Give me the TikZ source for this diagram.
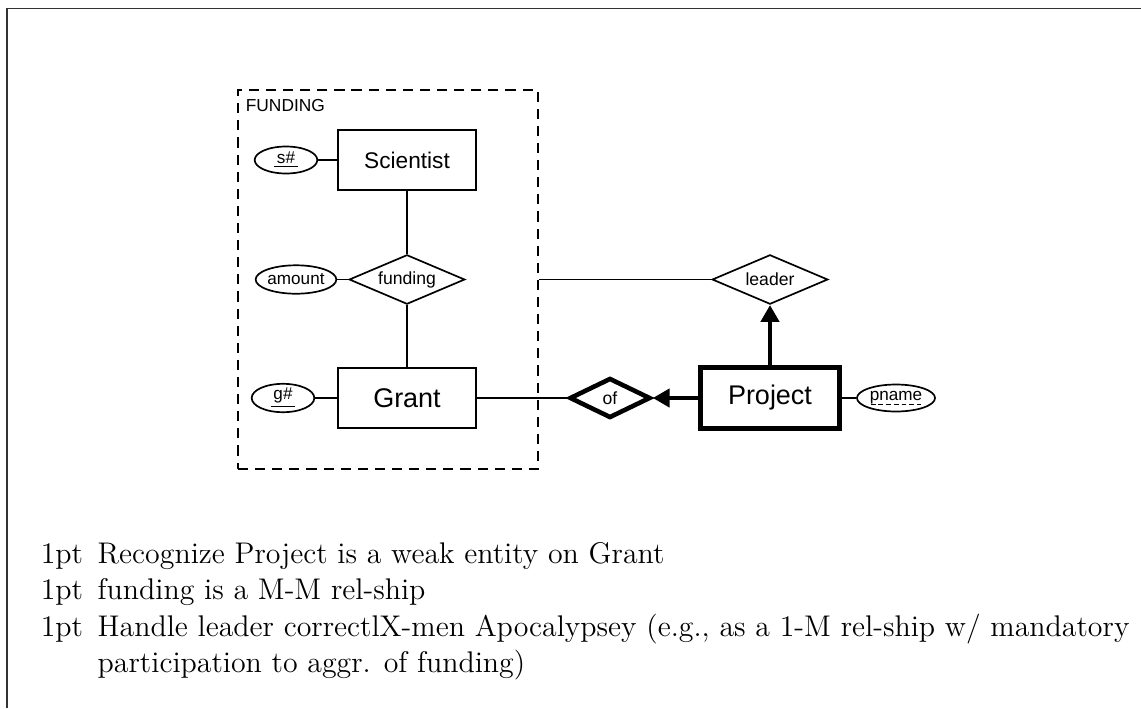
\documentclass[tikz,border=0pt]{standalone}
\usepackage{fontspec}
\usetikzlibrary{shapes.geometric,arrows.meta}
\newfontfamily\erfont{Liberation Sans}

\begin{document}
\begin{tikzpicture}[
		x=0.415pt, y=-0.415pt,
		line width=0.7pt,
		entity/.style={draw, rectangle, minimum width=57.5pt, minimum height=25pt, inner sep=0pt, font=\erfont\fontsize{9.4}{11}\selectfont},
		bigentity/.style={entity, font=\erfont\fontsize{11.2}{13}\selectfont},
		relship/.style={draw, diamond, aspect=2.3, minimum width=48pt, minimum height=20.5pt, inner sep=0pt, font=\erfont\fontsize{7.3}{9}\selectfont},
		attrib/.style={draw, ellipse, minimum width=26pt, minimum height=11.2pt, inner sep=0pt, font=\erfont\fontsize{7.1}{8.5}\selectfont},
		boldarrow/.style={line width=1.7pt, -{Triangle[length=7pt,width=7.5pt]}}
	]
	\useasboundingbox (0,0) rectangle (1141,708);
	\draw[black!80, line width=0.6pt] (7,708) -- (7,8.5) -- (1141,8.5);

	\node[draw, dash pattern=on 4.2pt off 2.9pt, line width=0.8pt, minimum width=124.5pt, minimum height=157.3pt, inner sep=0pt] (aggr) at (388,279.5) {};
	\node[anchor=base west, inner sep=0pt, font=\erfont\fontsize{7.2}{8.5}\selectfont] (aggrlabel) at (245,111) {FUNDING};

	\node[entity] (scientist) at (407,160) {Scientist};
	\node[attrib] (sno) at (286,160) {\underline{\,s\#\,}};
	\node[relship] (funding) at (407,279.5) {funding};
	\node[attrib, minimum width=32.8pt, minimum height=11.8pt] (amount) at (296,279.5) {amount};
	\node[bigentity] (grant) at (407,398) {Grant};
	\node[attrib] (gno) at (283,398) {\underline{\,g\#\,}};
	\node[relship] (leader) at (770,279.5) {leader};
	\node[relship, line width=1.9pt, minimum width=33.6pt, minimum height=16.6pt] (of) at (610,398) {of};
	\node[bigentity, line width=2.1pt] (project) at (770,398) {Project};
	\node[attrib, minimum width=32.4pt] (pname) at (896,398) {pname};
	% partial key
	\draw[line width=0.4pt, dash pattern=on 2pt off 1.2pt] ([xshift=-10.5pt,yshift=-2.6pt]pname.center) -- ([xshift=10.5pt,yshift=-2.6pt]pname.center);

	\draw (sno) -- (scientist);
	\draw (scientist) -- (funding);
	\draw (amount) -- (funding);
	\draw (funding) -- (grant);
	\draw (gno) -- (grant);
	\draw (grant) -- (of);
	\draw (aggr.east) -- (leader);
	\draw[boldarrow] (project) -- (of);
	\draw[boldarrow] (project) -- (leader);
	\draw (project) -- (pname);

	\node[anchor=base west, inner sep=0pt, font=\fontsize{12.4}{15.2}\selectfont] (notes) at (40,563) {\begin{tabular}[t]{@{}p{23.6pt}@{}l@{}}
			1pt & Recognize Project is a weak entity on Grant\\
			1pt & funding is a M-M rel-ship\\
			1pt & Handle leader correctlX-men Apocalypsey (e.g., as a 1-M rel-ship w/ mandatory\\
			    & participation to aggr. of funding)
		\end{tabular}};
\end{tikzpicture}
\end{document}
